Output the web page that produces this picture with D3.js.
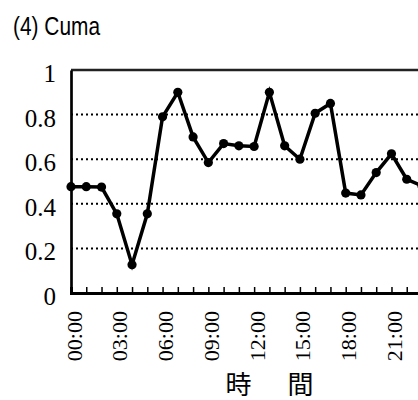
<!DOCTYPE html>
<html>
<head>
<meta charset="utf-8">
<script src="https://cdn.jsdelivr.net/npm/d3@7"></script>
<style>
  body { margin: 0; background: #fff; }
  svg { display: block; }
</style>
</head>
<body>
<div id="chart"></div>
<script>
'use strict';

// hourly values, 00:00 .. 23:00
var hours  = d3.range(24);
var values = [0.477, 0.477, 0.475, 0.355, 0.127, 0.355, 0.79, 0.90, 0.70, 0.585, 0.67, 0.66,
              0.657, 0.90, 0.66, 0.60, 0.806, 0.85, 0.448, 0.44, 0.54, 0.624, 0.51, 0.48];
var yTicks = [0, 0.2, 0.4, 0.6, 0.8, 1];
var xLabelHours = [0, 3, 6, 9, 12, 15, 18, 21];
var title  = "(4) Cuma";
var xTitle = "時　間";

var svgWidth = 418, svgHeight = 400;
var margin = {top: 70, left: 71, bottom: 107};
var plotRight = 422; // chart runs past the right edge of the window
var serif = 'Liberation Serif';

var svg = d3.select('#chart')
    .append('svg')
    .attr('width', svgWidth)
    .attr('height', svgHeight);

var x = d3.scaleLinear().domain([0, 23]).range([margin.left, plotRight]);
var y = d3.scaleLinear().domain([0, 1]).range([svgHeight - margin.bottom, margin.top]);

// title
svg.append('text')
    .attr('x', 13)
    .attr('y', 35)
    .attr('textLength', 87)
    .attr('lengthAdjust', 'spacingAndGlyphs')
    .attr('font-family', 'Liberation Sans')
    .attr('font-size', 25)
    .text(title);

// dotted grid lines
svg.append('g')
    .selectAll('line')
    .data(yTicks.filter(function(d) { return d > 0 && d < 1; }))
    .enter().append('line')
    .attr('x1', margin.left).attr('x2', plotRight + 20)
    .attr('y1', function(d) { return y(d); })
    .attr('y2', function(d) { return y(d); })
    .attr('stroke', '#000')
    .attr('stroke-width', 2)
    .attr('stroke-dasharray', '2,3');

// top border
svg.append('line')
    .attr('x1', margin.left).attr('x2', plotRight + 20)
    .attr('y1', y(1)).attr('y2', y(1))
    .attr('stroke', '#222')
    .attr('stroke-width', 2.5);

// y axis line
var gy = svg.append('g')
    .attr('transform', 'translate(' + margin.left + ',0)')
    .call(d3.axisLeft(y).tickValues(yTicks).tickSize(0).tickFormat(''));
gy.select('.domain').attr('stroke', '#000').attr('stroke-width', 2.7);

// y tick labels
svg.append('g')
    .selectAll('text')
    .data(yTicks)
    .enter().append('text')
    .attr('x', 56)
    .attr('y', function(d) { return y(d) + 12; })
    .attr('text-anchor', 'end')
    .attr('font-family', serif)
    .attr('font-size', 25)
    .attr('fill', '#000')
    .text(function(d) { return d3.format('')(d); });

// x axis, ticks pointing inward
var gx = svg.append('g')
    .attr('transform', 'translate(0,' + y(0) + ')')
    .call(d3.axisBottom(x).tickValues(hours).tickSize(-6).tickFormat(''));
gx.select('.domain').attr('stroke', '#000').attr('stroke-width', 3);
gx.selectAll('.tick line').attr('stroke', '#000').attr('stroke-width', 1.5);

// x tick labels, rotated
svg.append('g')
    .selectAll('text')
    .data(xLabelHours)
    .enter().append('text')
    .attr('transform', function(d) { return 'translate(' + (x(d) + 10.5) + ',311) rotate(-90)'; })
    .attr('text-anchor', 'end')
    .attr('font-family', serif)
    .attr('font-size', 22)
    .attr('fill', '#000')
    .text(function(d) { return d3.format('02')(d) + ':00'; });

// x title
svg.append('text')
    .attr('x', 272)
    .attr('y', 394)
    .attr('text-anchor', 'middle')
    .attr('font-family', 'Noto Sans CJK JP')
    .attr('font-size', 26)
    .attr('letter-spacing', 5)
    .text(xTitle);

// line and markers
var line = d3.line()
    .x(function(d, i) { return x(hours[i]); })
    .y(function(d) { return y(d); });

svg.append('path')
    .datum(values)
    .attr('d', line)
    .attr('fill', 'none')
    .attr('stroke', '#000')
    .attr('stroke-width', 3.5);

svg.append('g')
    .selectAll('circle')
    .data(values)
    .enter().append('circle')
    .attr('cx', function(d, i) { return x(hours[i]); })
    .attr('cy', function(d) { return y(d); })
    .attr('r', 4.6)
    .attr('fill', '#000');
</script>
</body>
</html>
